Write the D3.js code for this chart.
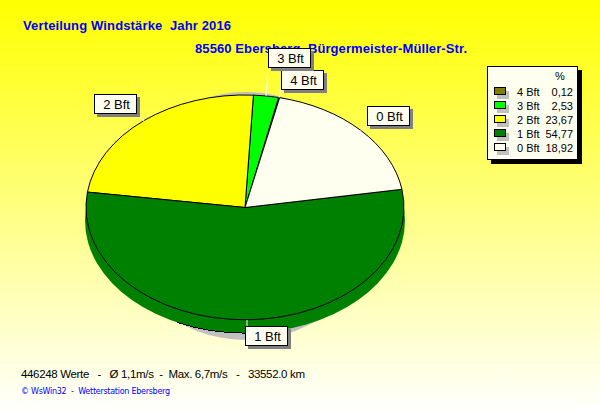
<!DOCTYPE html>
<html>
<head>
<meta charset="utf-8">
<style>
  html, body { margin: 0; padding: 0; background: #fff; }
  svg { display: block; }
  text { font-family: "Liberation Sans", Arial, sans-serif; white-space: pre; }
</style>
<script src="https://cdn.jsdelivr.net/npm/d3@7"></script>
</head>
<body>
<div id="graph"></div>
<script>
// legend order, the pie runs counter clockwise through it
var categories = ['4 Bft', '3 Bft', '2 Bft', '1 Bft', '0 Bft']
var percents = [0.12, 2.53, 23.67, 54.77, 18.92]
var percentLabels = ['0,12', '2,53', '23,67', '54,77', '18,92']
var colors = ['#808000', '#00ff00', '#ffff00', '#008000', '#fffff0']

var title = 'Verteilung Windstärke  Jahr 2016'
var subtitle = '85560 Ebersberg  Bürgermeister-Müller-Str.'
var summary = '446248 Werte   -   Ø 1,1m/s  -  Max. 6,7m/s   -   33552.0 km'
var credit = '© WsWin32  -  Wetterstation Ebersberg'

// label boxes, top left corner
var labelBoxes = {
  '4 Bft': [281, 70],
  '3 Bft': [268, 48],
  '2 Bft': [94, 94],
  '1 Bft': [245, 326],
  '0 Bft': [367, 106]
}

var width = 600
var height = 412
var cx = 245
var cy = 207.5
var rx = 159
var ry = 112.5
var depth = 13
var startDeg = 12.6

var svg = d3.select('#graph').append('svg')
    .attr('width', width)
    .attr('height', height)

var grad = svg.append('defs').append('linearGradient')
    .attr('id', 'bg')
    .attr('x1', 0).attr('y1', 0)
    .attr('x2', 0).attr('y2', 1)
grad.append('stop').attr('offset', '0%').attr('stop-color', '#ffff00')
grad.append('stop').attr('offset', '100%').attr('stop-color', '#ffffff')

svg.append('rect')
    .attr('width', width)
    .attr('height', height)
    .attr('fill', 'url(#bg)')

svg.append('text')
    .attr('x', 23).attr('y', 30)
    .attr('font-size', 13).attr('font-weight', 'bold')
    .attr('fill', '#0000ff')
    .attr('textLength', 208)
    .text(title)

svg.append('text')
    .attr('x', 195).attr('y', 53)
    .attr('font-size', 13).attr('font-weight', 'bold')
    .attr('fill', '#0000ff')
    .attr('textLength', 272)
    .text(subtitle)

// gray shadow behind the pie
svg.append('ellipse')
    .attr('cx', 246).attr('cy', 216)
    .attr('rx', 132).attr('ry', 124)
    .attr('fill', '#c0c0c0')

var pie = d3.pie()
    .sort(null)
    .startAngle(startDeg * Math.PI / 180)
    .endAngle((startDeg - 360) * Math.PI / 180)

var arcs = pie(percents)
var arc = d3.arc().innerRadius(0).outerRadius(1)
var wallColor = colors[categories.indexOf('1 Bft')]

// side wall, only the big slice faces the viewer
svg.append('ellipse')
    .attr('cx', cx).attr('cy', cy + depth)
    .attr('rx', rx + 1).attr('ry', ry)
    .attr('fill', wallColor)

// the outline of the wall only shows where it meets the shadow
var wallEdge = d3.arc()
    .innerRadius(1).outerRadius(1)
    .startAngle(170 * Math.PI / 180)
    .endAngle(205 * Math.PI / 180)

svg.append('path')
    .attr('transform', 'translate(' + cx + ',' + (cy + depth) + ') scale(' + (rx + 1) + ',' + ry + ')')
    .attr('d', wallEdge())
    .attr('fill', 'none')
    .attr('stroke', '#000')
    .attr('vector-effect', 'non-scaling-stroke')
    .attr('shape-rendering', 'crispEdges')

var face = svg.append('g')
    .attr('transform', 'translate(' + cx + ',' + cy + ') scale(' + rx + ',' + ry + ')')

face.selectAll('path')
    .data(arcs)
    .enter().append('path')
    .attr('d', arc)
    .attr('fill', function (d, i) { return colors[i] })
    .attr('stroke', '#000')
    .attr('stroke-width', 1)
    .attr('vector-effect', 'non-scaling-stroke')
    .attr('shape-rendering', 'crispEdges')

// labels with white leader lines
var labels = svg.append('g')

arcs.forEach(function (d, i) {
  var mid = (d.startAngle + d.endAngle) / 2
  var box = labelBoxes[categories[i]]
  var px = cx + rx * Math.sin(mid)
  var py = cy - ry * Math.cos(mid)
  var bw = 42
  var bh = 19
  var ex = Math.max(box[0], Math.min(box[0] + bw, px))
  var ey = Math.max(box[1], Math.min(box[1] + bh, py))

  labels.append('line')
      .attr('x1', px).attr('y1', py)
      .attr('x2', ex).attr('y2', ey)
      .attr('stroke', '#fff')

  labels.append('rect')
      .attr('x', box[0] + 3).attr('y', box[1] + 3)
      .attr('width', bw + 1).attr('height', bh + 1)
      .attr('fill', '#808080')
  labels.append('rect')
      .attr('x', box[0] + 0.5).attr('y', box[1] + 0.5)
      .attr('width', bw).attr('height', bh)
      .attr('fill', '#fffff0')
      .attr('stroke', '#000')
  labels.append('text')
      .attr('x', box[0] + 22.5).attr('y', box[1] + 15)
      .attr('text-anchor', 'middle')
      .attr('font-size', 13)
      .attr('fill', '#000')
      .text(categories[i])
})

// legend
var legend = svg.append('g').attr('transform', 'translate(487,66)')

legend.append('rect')
    .attr('x', 4).attr('y', 4)
    .attr('width', 91).attr('height', 94)
    .attr('fill', '#000')
legend.append('rect')
    .attr('x', 0.5).attr('y', 0.5)
    .attr('width', 90).attr('height', 93)
    .attr('fill', '#fffff0')
    .attr('stroke', '#000')
legend.append('text')
    .attr('x', 73).attr('y', 14)
    .attr('text-anchor', 'middle')
    .attr('font-size', 11)
    .text('%')

var rowY = d3.scalePoint().domain(categories).range([26, 82])

var row = legend.selectAll('.row')
    .data(categories)
    .enter().append('g')
    .attr('class', 'row')
    .attr('transform', function (d) { return 'translate(0,' + rowY(d) + ')' })

row.append('rect')
    .attr('x', 10).attr('y', -1)
    .attr('width', 12).attr('height', 8)
    .attr('fill', '#c0c0c0')
row.append('rect')
    .attr('x', 7.5).attr('y', -4.5)
    .attr('width', 11).attr('height', 7)
    .attr('fill', function (d, i) { return colors[i] })
    .attr('stroke', '#000')
row.append('text')
    .attr('x', 30).attr('y', 4)
    .attr('font-size', 11)
    .text(function (d) { return d })
row.append('text')
    .attr('x', 86).attr('y', 4)
    .attr('text-anchor', 'end')
    .attr('font-size', 11)
    .text(function (d, i) { return percentLabels[i] })

// footer
svg.append('text')
    .attr('x', 21).attr('y', 378)
    .attr('font-size', 11.5)
    .attr('fill', '#000')
    .attr('textLength', 284)
    .text(summary)

svg.append('text')
    .attr('x', 21).attr('y', 394)
    .attr('font-size', 8)
    .style('font-family', '"DejaVu Sans"')
    .attr('fill', '#0000ff')
    .attr('textLength', 149)
    .text(credit)
</script>
</body>
</html>
